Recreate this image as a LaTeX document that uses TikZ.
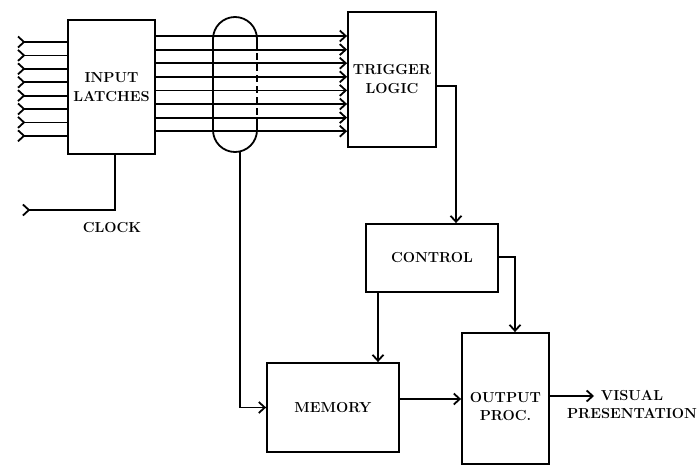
\documentclass[tikz,border=0pt]{standalone}
\usepackage{tikz}
\usetikzlibrary{arrows.meta, calc}
\tikzset{
  blk/.style={draw, line width=1.8pt, align=center, inner sep=0pt, font=\fontsize{14.5}{19}\selectfont\bfseries},
  lbl/.style={align=center, inner sep=2pt, font=\fontsize{14.5}{18}\selectfont\bfseries},
  wire/.style={line width=1.8pt, -{Straight Barb[length=6pt,width=11pt]}},
  feed/.style={line width=1.8pt, -{Straight Barb[reversed,length=6pt,width=11pt]}}
}

\begin{document}
\begin{tikzpicture}[x=1pt, y=1pt]
\useasboundingbox (0,0) rectangle (699,-466);
\node[blk, minimum width=87pt, minimum height=134pt] (lat) at (111.5,-87) {INPUT\\LATCHES};
\node[blk, minimum width=88pt, minimum height=135pt] (trig) at (392,-79.5) {TRIGGER\\LOGIC};
\node[blk, minimum width=132pt, minimum height=68pt] (ctl) at (432,-258) {CONTROL};
\node[blk, minimum width=132pt, minimum height=89pt] (mem) at (333,-407.5) {MEMORY};
\node[blk, minimum width=87pt, minimum height=131pt] (out) at (505.5,-398.5) {};
\node[lbl] (outtxt) at ($(out)+(0,-8)$) {OUTPUT\\PROC.};
\node[lbl] (clktxt) at (112,-228) {CLOCK};
\node[lbl] (vis) at (632,-405) {VISUAL\\PRESENTATION};
\coordinate (clk) at (22,-210);
\coordinate (pillbot) at (240,-152);
\coordinate (visin) at (594,-396);

\foreach \i in {0,...,7}
  \draw[feed] (lat.west |- 0,{-42-13.4*\i}) -- ++(-50,0);
\foreach \i in {0,...,7}
  \draw[wire] (lat.east |- 0,{-36-13.6*\i}) -- (trig.west |- 0,{-36-13.6*\i});

\draw[line width=1.8pt] (257,-125) -- (257,-130) arc (0:-180:22) -- (213,-39) arc (180:0:22) -- (257,-42);
\draw[line width=1.8pt, dash pattern=on 7pt off 4pt] (257,-42) -- (257,-125);

\draw[feed] (lat.south -| 115,0) |- (clk);
\draw[wire] (pillbot) |- (mem.west);
\draw[wire] (trig.east |- 0,-86) -| (ctl.north -| 456,0);
\draw[wire] (ctl.east |- 0,-257) -| (out.north -| 515,0);
\draw[wire] (ctl.south -| 378,0) -- (mem.north -| 378,0);
\draw[wire] (mem.east |- 0,-399) -- (out.west |- 0,-399);
\draw[wire] (out.east |- 0,-396) -- (visin);
\end{tikzpicture}
\end{document}
